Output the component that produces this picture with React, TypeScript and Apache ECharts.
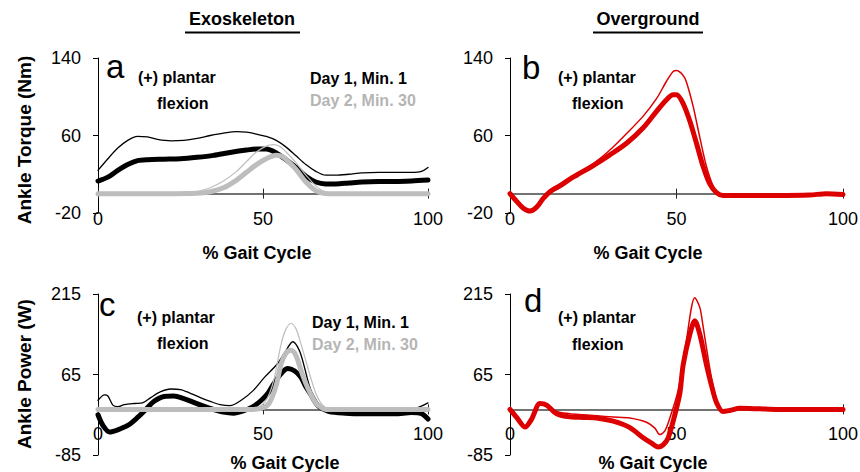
import React, { useEffect, useRef } from 'react';
import * as echarts from 'echarts';

const FONT = '"Liberation Sans", Arial, Helvetica, sans-serif';

const panelTitles = ['Exoskeleton', 'Overground'];
const panelLetters = ['a', 'b', 'c', 'd'];
const xAxisName = '% Gait Cycle';
const yAxisNames = ['Ankle Torque (Nm)', 'Ankle Power (W)'];
const legendLabels = ['Day 1, Min. 1', 'Day 2, Min. 30'];
const noteLines = ['(+) plantar', 'flexion'];
const torqueTicks = [-20, 60, 140];
const powerTicks = [-85, 65, 215];
const gaitTicks = [0, 50, 100];

// Panel a: exoskeleton torque
const torqueExoDay1Mean: [number, number][] = [
  [0, 13], [3, 17], [6, 24], [9, 30], [12, 34], [15, 35], [20, 35.5], [25, 36], [30, 37.5], [35, 39.5],
  [40, 42.5], [45, 45], [48, 46], [51, 46], [54, 42], [57, 35], [60, 27], [63, 18], [66, 12], [69, 10],
  [72, 10], [76, 11], [80, 12], [85, 12.5], [90, 12.5], [95, 13], [100, 14],
];
const torqueExoDay1Upper: [number, number][] = [
  [0, 24], [3, 36], [6, 47], [9, 55], [12, 59], [15, 58.5], [18, 56], [22, 54.5], [26, 55], [30, 57],
  [34, 60], [38, 62.5], [42, 64], [45, 63.5], [48, 61.5], [51, 59], [54, 55], [57, 48], [60, 39], [63, 30],
  [66, 23], [69, 19], [72, 19], [76, 20], [80, 21.5], [85, 22], [90, 22], [95, 22], [98, 23], [100, 27],
];
const torqueExoDay2Mean: [number, number][] = [
  [0, 0], [10, 0], [20, 0], [30, 0.5], [34, 2], [38, 6], [42, 14], [45, 22], [48, 30], [51, 36],
  [54, 39.5], [56, 38], [58, 32], [60, 25], [63, 12], [66, 3], [68, 0.5], [70, 0], [85, 0], [100, 0],
];
const torqueExoDay2Upper: [number, number][] = [
  [0, 0], [10, 0], [20, 0], [26, 0.5], [30, 2], [34, 6], [38, 13], [42, 23], [45, 33], [48, 43],
  [51, 49], [53, 50.5], [55, 49], [57, 43], [60, 32], [63, 19], [66, 8], [68, 3], [70, 1], [72, 0],
  [85, 0], [100, 0],
];

// Panel b: overground torque
const torqueOverMean: [number, number][] = [
  [0, 0], [2, -8], [4, -15], [6, -18], [8, -14], [10, -5], [12, 2], [15, 8], [18, 15], [20, 19],
  [25, 29], [30, 40], [35, 52], [40, 68], [44, 85], [47, 97], [49, 102], [50, 102], [52, 93], [54, 75],
  [56, 52], [58, 28], [60, 10], [62, 1], [64, -2], [70, -2], [80, -2], [90, -1.5], [95, 0], [100, -1],
];
const torqueOverUpper: [number, number][] = [
  [0, 0], [2, -7], [4, -14], [6, -17], [8, -14], [10, -4], [12, 4], [15, 10], [20, 21], [25, 31],
  [30, 45], [35, 62], [40, 80], [44, 98], [47, 116], [49, 126], [50, 127], [52, 122], [53, 115], [55, 90],
  [57, 58], [59, 28], [61, 8], [63, -1], [65, -2], [70, -2], [80, -1.5], [90, -1], [95, 0], [100, -1],
];

// Panel c: exoskeleton power
const powerExoDay1Mean: [number, number][] = [
  [0, -10], [1.5, -30], [3.5, -42], [6, -38], [9, -30], [12, -15], [14.5, 0], [17, 15], [20, 24], [23, 25],
  [26, 20], [29, 13], [32, 6], [35, 0], [38, -5], [41, -7], [44, -3], [47, 5], [49.5, 17], [51.5, 30],
  [53.5, 50], [55.5, 67], [57.5, 76], [59.5, 72], [61.5, 60], [63, 42], [64.5, 28], [66, 12], [67.5, 3],
  [70, -4], [75, -7], [80, -8], [85, -8], [90, -8], [95, -6], [98, -8], [100, -18],
];
const powerExoDay1Upper: [number, number][] = [
  [0, 17], [2, 27], [3, 25], [4.5, 8], [6, 5], [8, 9], [11, 11], [13.5, 12], [16, 22], [19, 33],
  [22, 38], [25, 37], [28, 30], [31, 22], [34, 15], [37, 9], [40, 7], [43.4, 17], [47, 35], [50.5, 60],
  [54.5, 86], [57, 110], [59, 126], [61, 110], [62.5, 80], [64, 45], [66, 15], [68, 3], [70, 0],
  [75, -3], [80, -4], [85, -4], [90, -3], [95, 0], [98, 6], [100, 12],
];
const powerExoDay2Mean: [number, number][] = [
  [0, 0], [20, 0], [40, 0], [47, 0], [50, 3], [52, 13], [54, 45], [55.5, 85], [57, 105], [58.5, 110],
  [60, 100], [61.5, 73], [63, 48], [64.5, 28], [66, 12], [67.5, 4], [69, 0], [85, 0], [100, 0],
];
const powerExoDay2Upper: [number, number][] = [
  [0, 0], [20, 0], [45, 0], [48, 2], [50.5, 13], [52, 30], [53.5, 60], [55.5, 122], [57, 150], [58.5, 160],
  [60, 150], [61.5, 122], [63, 90], [64.5, 58], [66, 30], [67.5, 12], [69, 3], [71, 0], [85, 0], [100, 0],
];

// Panel d: overground power
const powerOverMean: [number, number][] = [
  [0, 0], [2, -15], [4.5, -33], [6.5, -18], [9, 11], [11, 8], [14, -8], [18, -14], [22, -15], [26, -16],
  [31, -22], [36, -34], [40, -53], [42.5, -63], [44.5, -70], [46, -66], [47.5, -53], [49.5, -10], [51, 30],
  [52, 83], [54, 140], [55.5, 165], [57, 140], [59, 83], [60.5, 45], [62, 13], [64, -4], [66, -2], [69, 2],
  [75, 1], [80, 0], [90, 0], [100, 0],
];
const powerOverUpper: [number, number][] = [
  [0, 0], [2, -15], [4.5, -33], [6.5, -18], [9, 13], [11, 10], [14, -4], [18, -8], [22, -10], [26, -12],
  [31, -14], [36, -16], [41, -24], [43.5, -35], [45, -47], [46.5, -40], [48, -16], [50.5, 36], [53, 130],
  [55.5, 208], [57, 190], [58, 154], [59.5, 95], [61, 43], [62.5, 10], [64, -3], [66, -2], [69, 2],
  [75, 1], [80, 0], [90, 0], [100, 0],
];

const BLACK = '#000000';
const GRAY = '#bdbdbd';
const RED = '#dd0000';

const grids = [
  { left: 98, top: 58, width: 330, height: 155 },
  { left: 510, top: 58, width: 333, height: 155 },
  { left: 98, top: 294, width: 330, height: 161 },
  { left: 510, top: 294, width: 333, height: 161 },
];

function buildOption() {
  const xAxes: any[] = [];
  const yAxes: any[] = [];
  grids.forEach((g, i) => {
    const torque = i < 2;
    const ymin = torque ? -20 : -85;
    const ymax = torque ? 140 : 215;
    // distance (px) from grid bottom up to the zero line, derived from the axis range
    const zeroOffset = -g.height * (0 - ymin) / (ymax - ymin);
    xAxes.push({
      gridIndex: i, type: 'value', min: 0, max: 100, interval: 50, position: 'bottom', offset: zeroOffset,
      axisLine: { show: true, onZero: false, lineStyle: { color: '#444', width: 1.5 } },
      axisTick: { show: true, length: 5, lineStyle: { color: '#222', width: 1 }, customValues: gaitTicks },
      axisLabel: { show: true, customValues: gaitTicks, fontSize: 18, color: '#000', fontFamily: FONT, margin: 16 },
      splitLine: { show: false },
    });
    xAxes.push({
      gridIndex: i, type: 'value', min: 0, max: 100, interval: 50, position: 'bottom', offset: zeroOffset,
      axisLine: { show: false, onZero: false },
      axisTick: { show: true, inside: true, length: 5, lineStyle: { color: '#222', width: 1 }, customValues: gaitTicks },
      axisLabel: { show: false },
      splitLine: { show: false },
    });
    const ticks = torque ? torqueTicks : powerTicks;
    yAxes.push({
      gridIndex: i, type: 'value', min: ymin, max: ymax,
      axisLine: { show: true, onZero: false, lineStyle: { color: '#000', width: 1 } },
      axisTick: { show: true, length: 5, customValues: ticks, lineStyle: { color: '#000' } },
      axisLabel: { show: true, customValues: ticks, fontSize: 18, color: '#000', fontFamily: FONT, margin: 17 },
      splitLine: { show: false },
    });
  });

  const mk = (grid: number, data: [number, number][], color: string, width: number, z: number) => ({
    type: 'line', xAxisIndex: grid * 2, yAxisIndex: grid, data, symbol: 'none', showSymbol: false,
    smooth: 0.3, lineStyle: { color, width, cap: 'round', join: 'round' }, z, silent: true,
  });

  const series = [
    mk(0, torqueExoDay1Mean, BLACK, 5, 2),
    mk(0, torqueExoDay1Upper, BLACK, 1.3, 3),
    mk(0, torqueExoDay2Upper, GRAY, 1.2, 4),
    mk(0, torqueExoDay2Mean, GRAY, 5, 5),
    mk(1, torqueOverUpper, RED, 1.5, 3),
    mk(1, torqueOverMean, RED, 5, 4),
    mk(2, powerExoDay1Mean, BLACK, 5, 2),
    mk(2, powerExoDay1Upper, BLACK, 1.3, 3),
    mk(2, powerExoDay2Upper, GRAY, 1.2, 4),
    mk(2, powerExoDay2Mean, GRAY, 5, 5),
    mk(3, powerOverUpper, RED, 1.5, 3),
    mk(3, powerOverMean, RED, 5, 4),
  ];

  const txt = (text: string, x: number, y: number, opts: any = {}) => ({
    type: 'text', x, y, rotation: opts.rotation || 0, z: 100,
    style: {
      text, fill: opts.color || '#000',
      font: `${opts.bold === false ? 'normal' : 'bold'} ${opts.size || 16}px ${FONT}`,
      textAlign: opts.align || 'left', textVerticalAlign: 'middle',
    },
  });

  const graphic: any[] = [
    txt(panelTitles[0], 242, 19, { size: 18, align: 'center' }),
    txt(panelTitles[1], 648, 19, { size: 18, align: 'center' }),
    { type: 'line', shape: { x1: 185, y1: 32.5, x2: 300, y2: 32.5 }, style: { stroke: '#000', lineWidth: 2 } },
    { type: 'line', shape: { x1: 593, y1: 32.5, x2: 703, y2: 32.5 }, style: { stroke: '#000', lineWidth: 2 } },
    txt(yAxisNames[0], 24, 140, { size: 19, align: 'center', rotation: Math.PI / 2 }),
    txt(yAxisNames[1], 24, 374, { size: 19, align: 'center', rotation: Math.PI / 2 }),
    txt(xAxisName, 257, 253, { size: 18, align: 'center' }),
    txt(xAxisName, 648, 253, { size: 18, align: 'center' }),
    txt(xAxisName, 285, 463, { size: 18, align: 'center' }),
    txt(xAxisName, 653, 463, { size: 18, align: 'center' }),
    txt(panelLetters[0], 106, 66, { size: 33, bold: false }),
    txt(panelLetters[1], 522, 67, { size: 33, bold: false }),
    txt(panelLetters[2], 99, 304, { size: 33, bold: false }),
    txt(panelLetters[3], 524, 300, { size: 33, bold: false }),
    txt(noteLines[0], 138, 77),
    txt(noteLines[1], 157, 103),
    txt(noteLines[0], 558, 77),
    txt(noteLines[1], 572, 103),
    txt(noteLines[0], 137, 317),
    txt(noteLines[1], 157, 343),
    txt(noteLines[0], 558, 317),
    txt(noteLines[1], 572, 344),
    txt(legendLabels[0], 310, 78),
    txt(legendLabels[1], 310, 100, { color: '#b5b5b5' }),
    txt(legendLabels[0], 312, 322),
    txt(legendLabels[1], 312, 344, { color: '#b5b5b5' }),
  ];

  return {
    animation: false,
    backgroundColor: '#ffffff',
    textStyle: { fontFamily: FONT },
    grid: grids.map((g) => ({ ...g, containLabel: false, outerBoundsMode: 'none' })),
    xAxis: xAxes,
    yAxis: yAxes,
    series,
    graphic,
  };
}

export default function App() {
  const ref = useRef<HTMLDivElement>(null);
  useEffect(() => {
    if (!ref.current) return;
    const chart = echarts.init(ref.current, undefined, { renderer: 'svg' });
    chart.setOption(buildOption() as any);
    return () => chart.dispose();
  }, []);
  return (
    <div
      ref={ref}
      style={{ position: 'fixed', left: 0, top: 0, width: 860, height: 472, background: '#fff' }}
    />
  );
}
